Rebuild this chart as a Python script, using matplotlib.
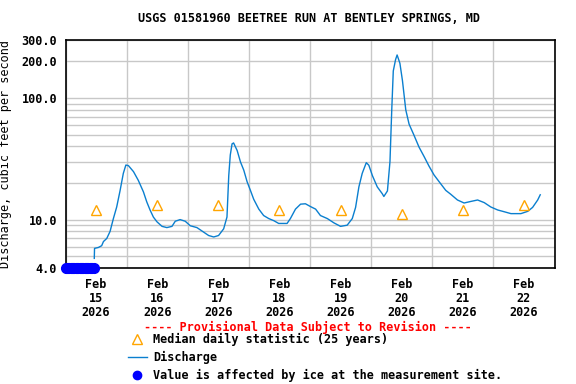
import numpy as np
import pandas as pd
import matplotlib
matplotlib.use("Agg")
import matplotlib.pyplot as plt
import matplotlib.dates as mdates
from matplotlib.lines import Line2D
from matplotlib.ticker import FixedLocator, NullFormatter

plt.rcParams['font.family'] = ['DejaVu Sans Mono']
plt.rcParams['font.weight'] = 'bold'

start = pd.Timestamp('2026-02-15 00:00')

# discharge, hours after Feb 15 00:00 and cfs
q_hours = [11.3, 11.4, 12.9, 14.2, 14.9, 16.2, 17.5, 18.8, 20.1, 21.4, 22.7, 23.7,
           24.7, 26.7, 28.6, 30.6, 31.9, 33.2, 34.5, 35.9, 37.9, 39.8, 41.8, 43.1,
           45.0, 47.0, 49.0, 51.6, 54.2, 56.2, 58.2, 60.1, 62.1, 63.4, 64.1, 64.7,
           65.4, 66.0, 67.4, 68.7, 70.0, 71.3, 72.6, 73.9, 75.9, 77.8, 79.8, 81.8,
           83.7, 87.0, 88.3, 90.3, 92.3, 94.2, 96.2, 98.2, 100.1, 102.8, 105.4, 108.0,
           110.6, 112.6, 113.9, 115.2, 116.5, 118.1, 119.1, 120.5, 122.4, 124.4, 125.0,
           126.4, 127.4, 128.1, 128.7, 129.6, 130.2, 131.3, 132.3, 133.6, 134.9, 136.8,
           138.8, 140.8, 142.7, 144.7, 146.7, 149.3, 151.2, 153.9, 156.5, 159.1, 161.8,
           164.4, 167.0, 169.7, 172.3, 174.9, 178.8, 181.5, 183.4, 185.4, 186.4]
q_cfs = [4.8, 5.8, 5.9, 6.1, 6.6, 7.0, 8.0, 10.2, 12.7, 17.2, 24.0, 28.1,
         27.8, 24.8, 21.0, 16.9, 14.0, 12.0, 10.5, 9.6, 8.8, 8.6, 8.8, 9.7,
         10.0, 9.7, 8.9, 8.6, 7.9, 7.4, 7.2, 7.4, 8.4, 10.5, 23.0, 34.0,
         42.0, 42.7, 37.0, 29.8, 25.5, 20.5, 17.4, 14.7, 12.2, 10.8, 10.2, 9.8,
         9.3, 9.3, 10.2, 12.2, 13.4, 13.5, 12.8, 12.2, 10.8, 10.2, 9.4, 8.8,
         9.0, 10.2, 12.6, 18.6, 24.0, 29.4, 28.0, 23.0, 18.6, 16.3, 15.5,
         17.2, 30.0, 80.0, 167.0, 207.0, 226.0, 193.0, 139.0, 80.0, 61.0, 49.6,
         39.5, 33.0, 27.6, 23.3, 20.5, 17.4, 16.2, 14.5, 13.7, 14.1, 14.5,
         13.8, 12.7, 12.0, 11.6, 11.2, 11.2, 11.7, 12.6, 14.5, 16.0]

# median daily statistic, one per day at noon
med_days = ['2026-02-15', '2026-02-16', '2026-02-17', '2026-02-18',
            '2026-02-19', '2026-02-20', '2026-02-21', '2026-02-22']
med_cfs = [12.0, 13.2, 13.3, 12.0, 12.0, 11.2, 12.0, 13.2]

# ice-affected values (plotted on the bottom axis)
ice_hours = [0, 0.5, 1, 1.5, 2, 2.5, 3, 3.5, 4, 4.5, 5, 5.5, 6, 6.5, 7, 7.5,
             8, 8.5, 9, 9.5, 10, 10.5, 11]
ice_cfs = [4.0] * len(ice_hours)

yticks = [4, 10, 100, 200, 300]
ytick_labels = ['4.0', '10.0', '100.0', '200.0', '300.0']
grid_vals = [5, 6, 7, 8, 9, 20, 30, 40, 50, 60, 70, 80, 90]

q_t = start + pd.to_timedelta(q_hours, unit='h')
ice_t = start + pd.to_timedelta(ice_hours, unit='h')
med_t = pd.to_datetime(med_days) + pd.Timedelta(hours=12)

fig = plt.figure(figsize=(5.76, 3.84), dpi=100)
ax = fig.add_axes([65.5 / 576, 1 - 268 / 384, 489 / 576, 228 / 384])

ax.plot(q_t, q_cfs, color='#0a7fcf', lw=1.0, zorder=3)
ax.plot(med_t, med_cfs, ls='none', marker='^', ms=7, mfc='none',
        mec='#ffa500', mew=1.0, zorder=4)
ax.plot(ice_t, ice_cfs, ls='-', lw=6, solid_capstyle='round', marker='o', ms=7,
        color='#0000ff', clip_on=False, zorder=5)

ax.set_yscale('log')
ax.set_ylim(4, 300)
ax.yaxis.set_major_locator(FixedLocator(yticks))
ax.set_yticklabels(ytick_labels)
ax.yaxis.set_minor_locator(FixedLocator(grid_vals))
ax.yaxis.set_minor_formatter(NullFormatter())

ax.set_xlim(start, start + pd.Timedelta(days=8))
ax.xaxis.set_major_locator(mdates.DayLocator())
ax.xaxis.set_major_formatter(NullFormatter())
ax.xaxis.set_minor_locator(mdates.HourLocator(byhour=[12]))
ax.xaxis.set_minor_formatter(mdates.DateFormatter('%b\n%d\n%Y'))

ax.yaxis.grid(True, which='both', color='#c8c8c8', lw=1.0)
ax.xaxis.grid(True, which='major', color='#c8c8c8', lw=1.0)
ax.set_axisbelow(True)
ax.tick_params(which='both', length=0)
ax.tick_params(axis='y', pad=6, labelsize=8.5)
ax.tick_params(axis='x', which='minor', pad=7, labelsize=8.5)
for lab in ax.xaxis.get_minorticklabels():
    lab.set_linespacing(1.1)
for sp in ax.spines.values():
    sp.set_linewidth(1.2)

ax.set_ylabel('Discharge, cubic feet per second', fontsize=8.5)
ax.yaxis.set_label_coords(-0.109, 0.5)

fig.text(309 / 576, 1 - 19 / 384, 'USGS 01581960 BEETREE RUN AT BENTLEY SPRINGS, MD',
         ha='center', va='center', fontsize=8.5)
fig.text(308 / 576, 1 - 327 / 384, '---- Provisional Data Subject to Revision ----',
         ha='center', va='center', fontsize=8.5, color='#ff0000')

handles = [
    Line2D([], [], ls='none', marker='^', ms=7, mfc='none', mec='#ffa500', mew=1.0),
    Line2D([], [], color='#0a7fcf', lw=1.0),
    Line2D([], [], ls='none', marker='o', ms=6, color='#0000ff'),
]
labels = ['Median daily statistic (25 years)', 'Discharge',
          'Value is affected by ice at the measurement site.']
fig.legend(handles, labels, loc='upper left', bbox_to_anchor=(128 / 576, 1 - 333 / 384),
           frameon=False, fontsize=8.5, borderpad=0, borderaxespad=0,
           handlelength=1.6, handletextpad=0.5, labelspacing=0.4)

fig.savefig('out.png', dpi=100)
